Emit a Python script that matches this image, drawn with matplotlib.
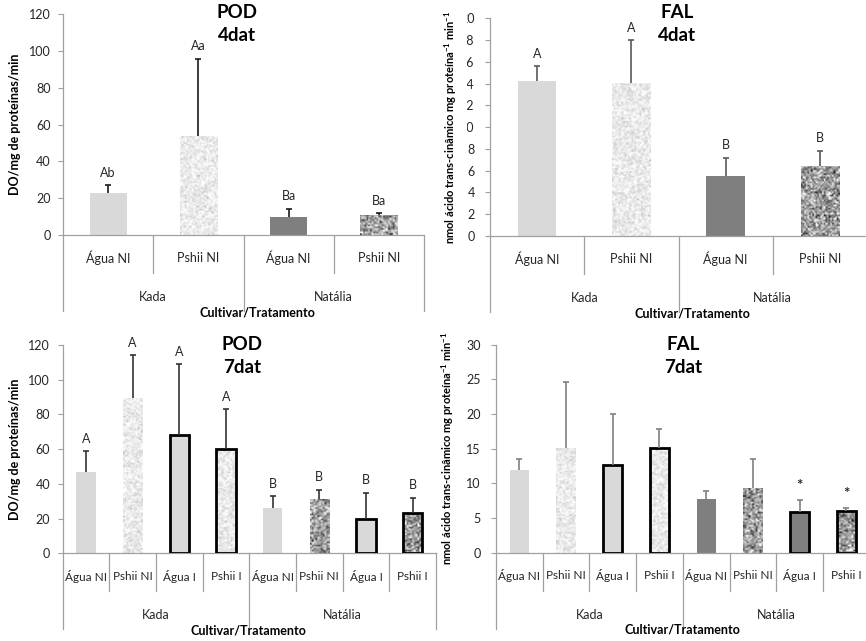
import numpy as np
import matplotlib
matplotlib.use("Agg")
import matplotlib.pyplot as plt
from matplotlib.patches import Rectangle
from matplotlib.transforms import blended_transform_factory

plt.rcParams['font.family'] = ['Lato', 'DejaVu Sans']
plt.rcParams['mathtext.fontset'] = 'custom'
plt.rcParams['mathtext.rm'] = 'Lato'
plt.rcParams['mathtext.bf'] = 'Lato:bold'

# ---- data ----
groups = ["Kada", "Natália"]
trat_4dat = ["Água NI", "Pshii NI"]
trat_7dat = ["Água NI", "Pshii NI", "Água I", "Pshii I"]

pod4_mean = [22.7, 53.5, 9.8, 10.9]
pod4_err = [4.2, 42.1, 4.4, 0.9]
pod4_letters = ["Ab", "Aa", "Ba", "Ba"]

fal4_mean = [14.24, 14.06, 5.54, 6.46]
fal4_err = [1.36, 3.92, 1.66, 1.38]
fal4_letters = ["A", "A", "B", "B"]

pod7_mean = [46.6, 89.2, 68.1, 59.9, 25.9, 31.1, 19.8, 23.4]
pod7_err = [12.3, 24.8, 40.7, 23.0, 7.1, 5.6, 15.1, 8.7]
pod7_letters = ["A", "A", "A", "A", "B", "B", "B", "B"]

fal7_mean = [11.92, 15.05, 12.7, 15.14, 7.69, 9.38, 5.91, 6.06]
fal7_err = [1.58, 9.52, 7.3, 2.74, 1.25, 4.12, 1.73, 0.43]
fal7_marks = ["", "", "", "", "", "", "*", "*"]

W, H, DPI = 866, 641, 100
fig = plt.figure(figsize=(W / DPI, H / DPI), dpi=DPI)
rng = np.random.default_rng(3)

LIGHT = '#d9d9d9'
DARK = '#7f7f7f'
AXC = '#a0a0a0'
TXT = '#262626'


def speckle(ax, bar, kind):
    x0, w, h = bar.get_x(), bar.get_width(), bar.get_height()
    p0 = ax.transData.transform((x0, 0))
    p1 = ax.transData.transform((x0 + w, h))
    nx = max(int((p1[0] - p0[0]) / 1.6), 2)
    ny = max(int((p1[1] - p0[1]) / 1.6), 2)
    if kind == 'lspk':
        tex = 0.92 + 0.06 * rng.standard_normal((ny, nx))
    else:
        tex = 0.62 + 0.2 * rng.standard_normal((ny, nx))
    im = ax.imshow(np.clip(tex, 0, 1), cmap='gray', vmin=0, vmax=1,
                   extent=(x0, x0 + w, 0, h), aspect='auto',
                   interpolation='bilinear', zorder=2)
    im.set_clip_path(bar)


def panel(box, ymax, ystep, means, errs, letters, fills, edges, trats,
          title, title_xy, ylabel, ylab_x, ylab_size, ecolor, xlab_x,
          cover=None, catsize=9, marksize=9, tickpad=5.5):
    x0, x1, ytop, ybot = box
    ax = fig.add_axes([x0 / W, 1 - ybot / H, (x1 - x0) / W, (ybot - ytop) / H])
    n = len(means)
    xs = np.arange(n)
    ax.set_xlim(-0.5, n - 0.5)
    ax.set_ylim(0, ymax)
    for s in ['top', 'right']:
        ax.spines[s].set_visible(False)
    for s in ['left', 'bottom']:
        ax.spines[s].set_color(AXC)
        ax.spines[s].set_linewidth(0.9)
    ax.set_xticks([])
    ax.set_yticks(np.arange(0, ymax + ystep / 2, ystep))
    ax.tick_params(axis='y', direction='out', length=3.5, width=0.8,
                   color=AXC, labelsize=9, labelcolor=TXT, pad=tickpad)

    cols = {'light': LIGHT, 'dark': DARK, 'lspk': 'none', 'dspk': 'none'}
    bars = ax.bar(xs, means, width=0.41,
                  color=[cols[f] for f in fills], zorder=2)
    for b, f, e in zip(bars, fills, edges):
        if f in ('lspk', 'dspk'):
            speckle(ax, b, f)
        if e:
            ax.bar(b.get_x() + b.get_width() / 2, b.get_height(),
                   width=b.get_width(), color='none', edgecolor='black',
                   linewidth=2, zorder=3)
    ax.set_xlim(-0.5, n - 0.5)
    ax.set_ylim(0, ymax)

    eb = ax.errorbar(xs, means, yerr=[np.zeros(n), errs], fmt='none',
                     ecolor=ecolor, elinewidth=1.2, capsize=2.5,
                     capthick=1.2, zorder=4)
    for cap in eb[1]:
        if np.allclose(cap.get_ydata(), means):
            cap.set_visible(False)

    for x, m, e, lab in zip(xs, means, errs, letters):
        if lab:
            big = lab == '*'
            ax.annotate(lab, (x, m + e), xytext=(0, 10 if big else 9),
                        textcoords='offset points', ha='center', va='center',
                        fontsize=marksize, color=TXT,
                        fontweight='bold' if big else 'normal',
                        annotation_clip=False)

    # two-level category axis drawn below the plot
    tr = blended_transform_factory(ax.transData, fig.dpi_scale_trans)
    base = (H - ybot) / DPI

    def y_in(dy):
        return base - dy / DPI

    per = n // 2
    for i in range(n + 1):
        long_line = i % per == 0
        dy = 76 if long_line else 38
        ax.plot([i - 0.5, i - 0.5], [y_in(0), y_in(dy)], color=AXC, lw=0.9,
                transform=tr, clip_on=False)
    for i in range(n):
        ax.text(i, y_in(23), trats[i % per], transform=tr, ha='center',
                va='center', fontsize=catsize, color=TXT)
    for g, name in enumerate(groups):
        ax.text(g * per + (per - 1) / 2, y_in(62), name, transform=tr,
                ha='center', va='center', fontsize=9, color=TXT)
    fig.text(xlab_x / W, 1 - (ybot + 77) / H, "Cultivar/Tratamento",
             ha='center', va='center', fontsize=9, fontweight='bold',
             color='black')

    fig.text(title_xy[0] / W, 1 - title_xy[1] / H, title, ha='center',
             va='top', fontsize=13.5, fontweight='bold', color='black',
             linespacing=1.45)

    if cover is None:
        ax.set_ylabel(ylabel, fontsize=ylab_size, fontweight='bold', color='black')
        ax.yaxis.set_label_coords((ylab_x - x0) / (x1 - x0), 0.5)
    else:
        # white label box hides the first digit of the tick labels, as in the source
        cx0, cx1, cy0, cy1 = cover
        fig.patches.append(Rectangle((cx0 / W, 1 - cy1 / H), (cx1 - cx0) / W,
                                     (cy1 - cy0) / H, transform=fig.transFigure,
                                     facecolor='white', edgecolor='none', zorder=2))
        fig.text((ylab_x - 6) / W, 1 - (ytop + ybot) / 2 / H, ylabel,
                 rotation=90, ha='center', va='center', fontsize=ylab_size,
                 fontweight='bold', color='black', zorder=4)
    return ax


pod_label = "DO/mg de proteínas/min"
fal_label = r"nmol ácido trans-cinâmico mg proteína$^{\mathbf{-1}}$ min$^{\mathbf{-1}}$"

panel((63, 424, 14, 235), 120, 20, pod4_mean, pod4_err, pod4_letters,
      ['light', 'lspk', 'dark', 'dspk'], [False] * 4, trat_4dat,
      "POD\n4dat", (237, 4), pod_label, 21, 9, '#1a1a1a', 257)

panel((490, 867, 18.3, 236), 20, 2, fal4_mean, fal4_err, fal4_letters,
      ['light', 'lspk', 'dark', 'dspk'], [False] * 4, trat_4dat,
      "FAL\n4dat", (677, 4), fal_label, 457, 8, '#595959', 692,
      cover=(434, 467, 6, 250), tickpad=7.5)

panel((62.7, 436, 345, 553.3), 120, 20, pod7_mean, pod7_err, pod7_letters,
      ['light', 'lspk', 'light', 'lspk', 'light', 'dspk', 'light', 'dspk'],
      [False, False, True, True] * 2, trat_7dat,
      "POD\n7dat", (242, 336), pod_label, 21, 9, '#333333', 248, catsize=8.5)

panel((496, 869.6, 344.7, 552.7), 30, 5, fal7_mean, fal7_err, fal7_marks,
      ['light', 'lspk', 'light', 'lspk', 'dark', 'dspk', 'dark', 'dspk'],
      [False, False, True, True] * 2, trat_7dat,
      "FAL\n7dat", (683, 336), fal_label, 456, 8, '#808080', 682,
      catsize=8.5, marksize=11, tickpad=7.5)

fig.savefig("out.png", dpi=DPI, facecolor='white')
